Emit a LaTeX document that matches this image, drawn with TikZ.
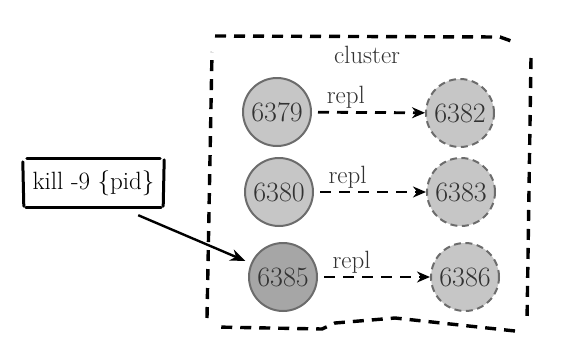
\documentclass[tikz,border=0pt]{standalone}
\usepackage{tikz}
\usetikzlibrary{calc, positioning, arrows.meta}

\definecolor{nodefill}{RGB}{198,198,198}
\definecolor{deadfill}{RGB}{166,166,166}
\definecolor{nodeline}{RGB}{108,108,108}
\definecolor{nodetext}{RGB}{50,50,50}

\begin{document}
\begin{tikzpicture}[x=1pt, y=-1pt,
    bigfont/.style={font=\fontsize{25}{30}\selectfont},
    master/.style={circle, draw=nodeline, line width=2pt, fill=nodefill,
      minimum size=68pt, inner sep=0pt, font=\fontsize{28}{32}\selectfont,
      text=nodetext},
    replica/.style={master, dash pattern=on 7pt off 4.5pt},
    replarrow/.style={-{Stealth[length=13pt, width=11pt]}, line width=2.8pt,
      dash pattern=on 11pt off 8pt},
    outline/.style={line width=3.4pt, dash pattern=on 11pt off 8pt},
    sketch/.style={line width=3pt, line cap=round}]
  \useasboundingbox (0,0) rectangle (565,351);

  % cluster outline, drawn by hand
  \draw[outline] (215,36) -- (500,37) -- (514,42);
  \draw[outline] (531,58) -- (527,322);
  \draw[outline] (515,331) -- (395,318) -- (335,323) -- (322,329) -- (215,327);
  \draw[outline] (207,318) -- (212,52);
  \node[bigfont, text=nodetext, anchor=base] (cluster) at (367,63) {cluster};

  % masters and their replicas
  \node[master] (m1) at (277,112) {6379};
  \node[master] (m2) at (279,192) {6380};
  \node[master, fill=deadfill] (m3) at (283,277) {6385};
  \node[replica] (r1) at (460,113) {6382};
  \node[replica] (r2) at (461,192) {6383};
  \node[replica] (r3) at (465,277) {6386};

  \foreach \i in {1,2,3}
    \draw[replarrow, shorten <=6pt] (m\i) -- (r\i)
      node[pos=0.3, anchor=base, yshift=9pt, bigfont, text=nodetext] {repl};

  % the kill command
  \node[bigfont, minimum width=141pt, minimum height=48pt, inner sep=0pt]
    (kill) at (93.5,183) {kill -9 \{pid\}};
  \draw[sketch] ($(kill.north west)+(4,0)$) -- ($(kill.north east)+(-4,0)$);
  \draw[sketch] ($(kill.south west)+(3,0)$) -- ($(kill.south east)+(-3,0)$);
  \draw[sketch] ($(kill.north west)+(0,3)$) -- ($(kill.south west)+(1,-1)$);
  \draw[sketch] ($(kill.north east)+(0,1)$) -- ($(kill.south east)+(-1,-1)$);

  \draw[line width=2.4pt, -{Stealth[length=15pt, width=12pt]}, shorten >=6pt]
    ($(kill.south east)+(-26,8)$) -- (m3);
\end{tikzpicture}
\end{document}
